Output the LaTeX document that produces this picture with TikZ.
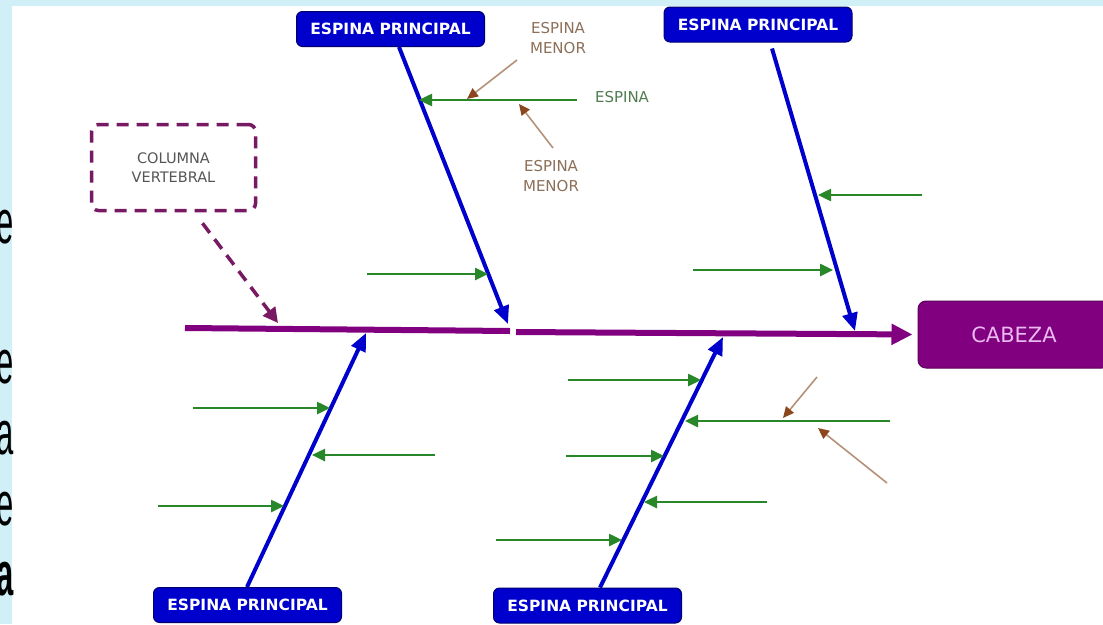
\documentclass[tikz,border=0pt]{standalone}
\usepackage{fontspec}
\setmainfont{DejaVu Sans}
\newfontfamily\lsans{Liberation Sans}
\usetikzlibrary{arrows.meta}
\definecolor{bgblue}{RGB}{208,239,247}
\definecolor{spinecol}{RGB}{128,0,128}
\definecolor{bluecol}{RGB}{0,0,204}
\definecolor{boxborder}{RGB}{0,0,110}
\definecolor{greencol}{RGB}{40,135,40}
\definecolor{brownline}{RGB}{180,145,120}
\definecolor{brownhead}{RGB}{140,70,30}
\definecolor{menortext}{RGB}{140,112,88}
\definecolor{espinatext}{RGB}{80,125,80}
\definecolor{coltext}{RGB}{85,85,85}
\definecolor{dashcol}{RGB}{120,25,100}
\definecolor{cabtext}{RGB}{235,185,240}
\begin{document}
\begin{tikzpicture}[x=1pt,y=-1pt,
  mainbox/.style={draw=boxborder, line width=1pt, fill=bluecol, rounded corners=6pt,
    text=white, font=\bfseries\fontsize{15.5}{17}\selectfont,
    minimum width=188pt, minimum height=35pt, inner sep=0pt},
  cabbox/.style={draw=spinecol!70!black, line width=1pt, fill=spinecol, rounded corners=8pt,
    text=cabtext, font=\fontsize{21}{24}\selectfont,
    minimum width=192pt, minimum height=67pt, inner sep=0pt},
  colbox/.style={draw=dashcol, line width=3.5pt, dash pattern=on 12pt off 8pt,
    rounded corners=7pt, text=coltext, align=center, font=\fontsize{14.5}{19}\selectfont,
    minimum width=164pt, minimum height=86pt, inner sep=0pt},
  smalllabel/.style={align=center, font=\fontsize{15}{20}\selectfont, inner sep=0pt},
  spineline/.style={draw=spinecol, line width=6pt},
  spinearrow/.style={spineline, -{Triangle[length=21pt,width=20pt]}},
  bluearrow/.style={draw=bluecol, line width=4pt, -{Triangle[length=18pt,width=15pt]}},
  greenarrow/.style={draw=greencol, line width=2.5pt, -{Triangle[length=13pt,width=12pt]}},
  brownarrow/.style={draw=brownline, line width=1.6pt, -{Triangle[length=11pt,width=10pt,color=brownhead]}},
  dasharrow/.style={draw=dashcol, line width=3.5pt, dash pattern=on 12pt off 8pt, -{Triangle[length=15pt,width=15pt]}},
  leftletter/.style={anchor=base east, inner sep=0pt, text=black, font=\lsans\fontsize{62}{62}\selectfont}
]
\useasboundingbox (0,0) rectangle (1103,624);
\clip (0,0) rectangle (1103,624);
% background
\fill[bgblue] (0,0) rectangle (1103,624);
\fill[white] (12,6) rectangle (1103,624);

% cut-off letters at the left edge
\node[leftletter] (la) at (14,243) {\scalebox{0.5}[1]{e}};
\node[leftletter] (lb) at (14,383) {\scalebox{0.5}[1]{e}};
\node[leftletter] (lc) at (14,454) {\scalebox{0.5}[1]{a}};
\node[leftletter] (ld) at (14,525) {\scalebox{0.5}[1]{e}};
\node[leftletter, font=\lsans\bfseries\fontsize{62}{62}\selectfont] (le) at (14,595) {\scalebox{0.5}[1]{a}};

% nodes
\node[mainbox] (tl) at (390.5,29) {ESPINA PRINCIPAL};
\node[mainbox] (tr) at (758,24.5) {ESPINA PRINCIPAL};
\node[mainbox] (bl) at (247.5,605) {ESPINA PRINCIPAL};
\node[mainbox] (br) at (587.5,605.5) {ESPINA PRINCIPAL};
\node[cabbox] (cab) at (1014,334.5) {CABEZA};
\node[colbox] (col) at (173.5,167.5) {COLUMNA\\VERTEBRAL};
\node[smalllabel, text=menortext] (m1t) at (558,38) {ESPINA\\MENOR};
\node[smalllabel, text=espinatext] (esp) at (622,97) {ESPINA};
\node[smalllabel, text=menortext] (m2t) at (551,176) {ESPINA\\MENOR};

% spine
\coordinate (sp1) at (185,328);
\coordinate (sp2) at (510,331);
\coordinate (sp3) at (516,332);
\draw[spineline] (sp1) -- (sp2);
\draw[spinearrow, shorten >=5pt] (sp3) -- (cab.west);

% dashed arrow from COLUMNA VERTEBRAL
\coordinate (colTip) at (278,323);
\draw[dasharrow] ([xshift=29pt,yshift=-11pt]col.south) -- (colTip);

% main bones
\coordinate (tlTip) at (508,324);
\coordinate (trTip) at (855,331);
\coordinate (blTip) at (366,333);
\coordinate (brTip) at (723,337);
\draw[bluearrow] ([xshift=8.5pt]tl.south) -- (tlTip);
\draw[bluearrow] ([xshift=14pt,yshift=-6pt]tr.south) -- (trTip);
\draw[bluearrow] ([xshift=-0.5pt]bl.north) -- (blTip);
\draw[bluearrow] ([xshift=12.5pt]br.north) -- (brTip);

% secondary bones (green)
\coordinate (g1s) at (577,100);  \coordinate (g1e) at (419,100);
\coordinate (g2s) at (367,274);  \coordinate (g2e) at (488,274);
\coordinate (g3s) at (922,195);  \coordinate (g3e) at (818,195);
\coordinate (g4s) at (693,270);  \coordinate (g4e) at (833,270);
\coordinate (g5s) at (193,408);  \coordinate (g5e) at (330,408);
\coordinate (g6s) at (435,455);  \coordinate (g6e) at (312,455);
\coordinate (g7s) at (158,506);  \coordinate (g7e) at (284,506);
\coordinate (g8s) at (568,380);  \coordinate (g8e) at (701,380);
\coordinate (g9s) at (890,421);  \coordinate (g9e) at (685,421);
\coordinate (g10s) at (566,456); \coordinate (g10e) at (664,456);
\coordinate (g11s) at (767,502); \coordinate (g11e) at (644,502);
\coordinate (g12s) at (496,540); \coordinate (g12e) at (622,540);
\foreach \i in {1,...,12} {\draw[greenarrow] (g\i s) -- (g\i e);}

% minor bones (brown)
\coordinate (b1s) at (517,60);  \coordinate (b1e) at (467,99);
\coordinate (b2s) at (553,148); \coordinate (b2e) at (519,104);
\coordinate (b3s) at (817,377); \coordinate (b3e) at (783,418);
\coordinate (b4s) at (887,483); \coordinate (b4e) at (818,428);
\foreach \i in {1,...,4} {\draw[brownarrow] (b\i s) -- (b\i e);}
\end{tikzpicture}
\end{document}
